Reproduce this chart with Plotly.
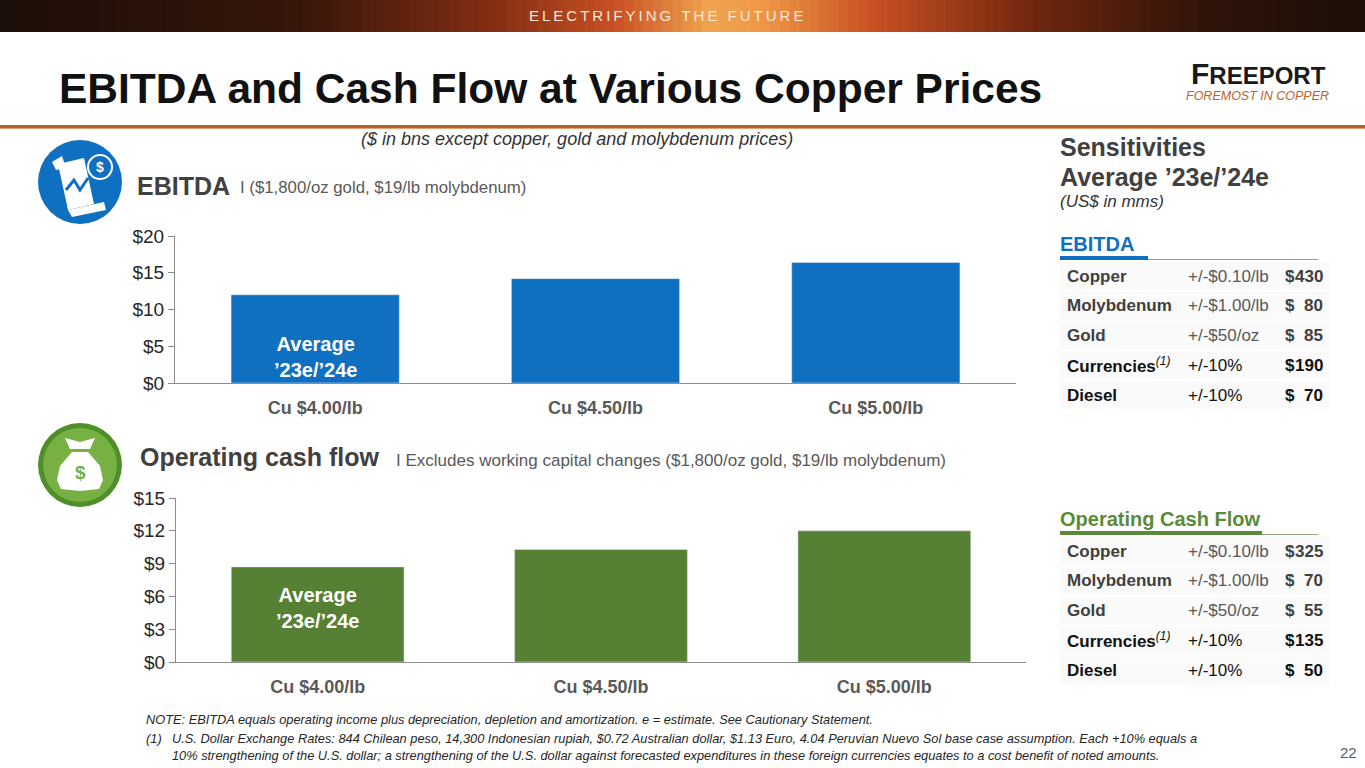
import plotly.graph_objects as go

# Chart data ($ bns)
categories = ["Cu $4.00/lb", "Cu $4.50/lb", "Cu $5.00/lb"]
ebitda = [12.0, 14.2, 16.4]
cash_flow = [8.7, 10.3, 12.0]
ebitda_ticks = [0, 5, 10, 15, 20]
cash_ticks = [0, 3, 6, 9, 12, 15]

# Sensitivity tables (US$ mms)
sens_items = ["Copper", "Molybdenum", "Gold", "Currencies", "Diesel"]
sens_moves = ["+/-$0.10/lb", "+/-$1.00/lb", "+/-$50/oz", "+/-10%", "+/-10%"]
sens_ebitda = [430, 80, 85, 190, 70]
sens_cash = [325, 70, 55, 135, 50]

W, H = 1365, 768
FONT = "Arial, Liberation Sans, sans-serif"
BLUE = "#0f6fc0"
GREEN = "#568135"
GRAY = "#404040"


def px(x):
    return x / W


def py(y):
    return 1 - y / H


fig = go.Figure()

fig.add_trace(go.Bar(x=categories, y=ebitda, marker_color=BLUE, width=0.6,
                     xaxis="x", yaxis="y", hoverinfo="x+y"))
fig.add_trace(go.Bar(x=categories, y=cash_flow, marker_color=GREEN, width=0.61,
                     xaxis="x2", yaxis="y2", hoverinfo="x+y"))

axis_common = dict(showline=True, linecolor="#8c8c8c", linewidth=1, showgrid=False,
                   zeroline=False, fixedrange=True, automargin=False)
cat_ticks = dict(tickvals=categories, ticktext=[f"<b>{c}</b>" for c in categories],
                 tickfont=dict(size=18, color="#595959"), ticks="", ticklabelstandoff=8)

fig.update_layout(
    width=W, height=H,
    margin=dict(l=0, r=0, t=0, b=0, pad=0, autoexpand=False),
    paper_bgcolor="white", plot_bgcolor="white",
    showlegend=False,
    font=dict(family=FONT, color="#262626"),
    xaxis=dict(domain=[px(175), px(1016)], anchor="y", **cat_ticks, **axis_common),
    yaxis=dict(domain=[py(383), py(236)], anchor="x", range=[0, 20],
               tickvals=ebitda_ticks, ticktext=[f"${v}" for v in ebitda_ticks],
               ticks="outside", ticklen=6, tickcolor="#8c8c8c",
               tickfont=dict(size=19), **axis_common),
    xaxis2=dict(domain=[px(176), px(1026)], anchor="y2", **cat_ticks, **axis_common),
    yaxis2=dict(domain=[py(662), py(498)], anchor="x2", range=[0, 15],
                tickvals=cash_ticks, ticktext=[f"${v}" for v in cash_ticks],
                ticks="outside", ticklen=6, tickcolor="#8c8c8c",
                tickfont=dict(size=19), **axis_common),
)

shapes = []
annotations = []


def text(x, y, s, size, color=GRAY, anchor="left", family=FONT, yanchor="middle"):
    annotations.append(dict(x=px(x), y=py(y), xref="paper", yref="paper", text=s,
                            showarrow=False, xanchor=anchor, yanchor=yanchor,
                            borderpad=0, font=dict(size=size, color=color, family=family)))


def rect(x0, y0, x1, y1, color, line=None):
    shapes.append(dict(type="rect", xref="paper", yref="paper",
                       x0=px(x0), x1=px(x1), y0=py(y1), y1=py(y0),
                       fillcolor=color, line=dict(width=0) if line is None else line,
                       layer="below"))


def circle(cx, cy, r, color, line=None):
    shapes.append(dict(type="circle", xref="paper", yref="paper",
                       x0=px(cx - r), x1=px(cx + r), y0=py(cy + r), y1=py(cy - r),
                       fillcolor=color, line=dict(width=0) if line is None else line))


def path(points, color, closed=True, width=2):
    d = "M " + " L ".join(f"{px(x):.5f},{py(y):.5f}" for x, y in points)
    if closed:
        d += " Z"
    shapes.append(dict(type="path", xref="paper", yref="paper", path=d,
                       fillcolor=color if closed else None,
                       line=dict(width=0 if closed else width, color=color)))


# top banner gradient
stops = [(0.0, (28, 14, 8)), (0.22, (55, 22, 10)), (0.36, (130, 45, 18)),
         (0.45, (200, 80, 35)), (0.52, (240, 165, 80)), (0.56, (238, 150, 70)),
         (0.64, (200, 80, 35)), (0.76, (110, 38, 14)), (0.88, (48, 20, 10)), (1.0, (28, 14, 8))]


def grad(t):
    for (t0, c0), (t1, c1) in zip(stops, stops[1:]):
        if t0 <= t <= t1:
            f = (t - t0) / (t1 - t0)
            return "rgb(%d,%d,%d)" % tuple(round(a + (b - a) * f) for a, b in zip(c0, c1))
    return "rgb(28,14,8)"


n = 140
for i in range(n):
    rect(W * i / n, 0, W * (i + 1) / n + 1, 32, grad((i + 0.5) / n))
banner = "\u2009".join("ELECTRIFYING") + "\u2009 \u2009" + "\u2009".join("THE") + "\u2009 \u2009" + "\u2009".join("FUTURE")
text(666, 15, banner, 15, "#f6e8da", "center")

# title and rule
text(58, 88, "<b>EBITDA and Cash Flow at Various Copper Prices</b>", 42.5, "#111111")
rect(0, 125, W, 128, "#b5652b")
rect(0, 128, W, 129, "#e0a070")
text(1258, 74, "<b>F<span style='font-size:24px'>REEPORT</span></b>", 30, "#1a1a1a", "center")
text(1257, 96, "<i>FOREMOST IN COPPER</i>", 12.5, "#c0602a", "center")
text(577, 139, "<i>($ in bns except copper, gold and molybdenum prices)</i>", 18, "#333333", "center")

# EBITDA icon
circle(80, 182, 42, BLUE)
path([(58, 164), (84, 158), (94, 204), (68, 210)], "white")
path([(52, 162), (62, 156), (66, 168), (56, 170)], "white")
path([(68, 210), (104, 202), (106, 210), (72, 217)], "white")
path([(66, 190), (74, 180), (80, 190), (88, 178)], BLUE, closed=False, width=3)
circle(100, 167, 12, BLUE, dict(color="white", width=2))
text(100, 167, "<b>$</b>", 14, "white", "center")
text(136, 186, "<b>EBITDA</b>", 25, GRAY)
text(239, 188, "I ($1,800/oz gold, $19/lb molybdenum)", 16.8, "#595959")

# Cash flow icon
circle(80, 465, 42, "#4f8f2a")
circle(80, 465, 37, "#77b144")
path([(72, 452), (88, 452), (100, 466), (103, 480), (99, 489), (80, 491), (61, 489), (57, 480),
      (60, 466)], "white")
path([(70, 449), (90, 449), (95, 438), (80, 442), (65, 438)], "white")
text(80, 472, "<b>$</b>", 19, "#77b144", "center")
text(139, 457, "<b>Operating cash flow</b>", 25, GRAY)
text(395, 460, "I Excludes working capital changes ($1,800/oz gold, $19/lb molybdenum)", 17, "#595959")

# in-bar labels
for ax, yy in (("x", 357), ("x2", 634)):
    annotations.append(dict(x=categories[0], y=py(yy), xref=ax, yref="paper",
                            text="<b>Average<br>’23e/’24e</b>", showarrow=False,
                            font=dict(size=20, color="white", family=FONT)))

# sensitivities panel
text(1059, 147, "<b>Sensitivities</b>", 25, GRAY)
text(1059, 177, "<b>Average ’23e/’24e</b>", 25, GRAY)
text(1059, 201, "<i>(US$ in mms)</i>", 17, "#333333")


def table(title, color, y_title, bar_end, values):
    text(1059, y_title, f"<b>{title}</b>", 20, color)
    rect(1060, y_title + 12, bar_end, y_title + 16, color)
    rect(bar_end, y_title + 15, 1318, y_title + 16, "#7f9fbf" if color == BLUE else "#8fa67f")
    for i, (item, move, val) in enumerate(zip(sens_items, sens_moves, values)):
        y = y_title + 32 + i * 29.8
        rect(1060, y - 14, 1330, y + 14, "#fafafa")
        dark = i >= 3
        name = f"<b>{item}</b>"
        if item == "Currencies":
            name += "<sup><i>(1)</i></sup>"
        text(1066, y, name, 17, "#111111" if dark else GRAY)
        text(1187, y, move, 17, "#111111" if dark else "#595959")
        text(1284, y, "<b>$</b>", 17, "#111111" if dark else GRAY)
        text(1324, y, f"<b>{val}</b>", 17, "#111111" if dark else GRAY, "right")


table("EBITDA", BLUE, 244, 1148, sens_ebitda)
table("Operating Cash Flow", "#5a8a3a", 519, 1262, sens_cash)

# footnotes
text(145, 719, "<i>NOTE: EBITDA equals operating income plus depreciation, depletion and amortization. "
     "e = estimate. See Cautionary Statement.</i>", 12.8, "#262626")
text(145, 738, "<i>(1)</i>", 12.8, "#262626")
text(171, 738, "<i>U.S. Dollar Exchange Rates: 844 Chilean peso, 14,300 Indonesian rupiah, $0.72 Australian "
     "dollar, $1.13 Euro, 4.04 Peruvian Nuevo Sol base case assumption. Each +10% equals a</i>", 12.8, "#262626")
text(171, 755, "<i>10% strengthening of the U.S. dollar; a strengthening of the U.S. dollar against forecasted "
     "expenditures in these foreign currencies equates to a cost benefit of noted amounts.</i>", 12.8, "#262626")
text(1358, 752, "22", 15, "#595959", "right")

fig.update_layout(shapes=shapes, annotations=annotations)

# pin the graph to the top-left corner of the page
pin = ("document.body.style.margin='0';document.body.style.overflow='hidden';"
       "var d=document.getElementById('{plot_id}');d.style.position='fixed';"
       "d.style.left='0px';d.style.top='0px';")
fig.write_html("out.html", post_script=pin, config={"displayModeBar": False})
